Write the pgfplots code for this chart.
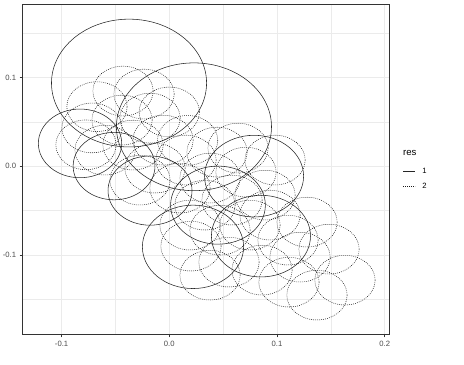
\documentclass[border=0pt]{standalone}
\usepackage{fontspec}
\setmainfont{Liberation Sans}
\usepackage{pgfplots}
\pgfplotsset{compat=1.18}
\usepackage{pgfplotstable}

\def\rad{0.03}
\pgfdeclareplotmark{ell}{%
  \pgfpathellipse{\pgfpointorigin}{\pgfpoint{\rad*1076.9bp}{0pt}}{\pgfpoint{0pt}{\rad*887.3bp}}%
  \pgfusepathqstroke}
\tikzset{
  c1/.style={draw=black!85, line width=0.55bp, solid},
  c2/.style={draw=black!90, line width=0.55bp, dash pattern=on 0.8bp off 1.2bp},
}

% res = 1 : centre x, centre y, radius (data units)
\pgfplotstableread{
x y r
-0.0374 0.0936 0.072
0.0229 0.0443 0.072
-0.0829 0.0256 0.0387
-0.0513 0.0000 0.038
-0.0179 -0.0276 0.039
0.0220 -0.0910 0.047
0.0787 -0.0113 0.046
0.0851 -0.0789 0.046
0.0452 -0.0440 0.044
}\resone

% res = 2
\pgfplotstableread{
x y r
-0.0430 0.0846 0.028
-0.0672 0.0670 0.028
-0.0235 0.0812 0.028
0.0000 0.0610 0.028
-0.0179 0.0541 0.028
-0.0439 0.0519 0.028
-0.0718 0.0430 0.028
0.0170 0.0290 0.028
-0.0058 0.0293 0.028
-0.0337 0.0237 0.028
-0.0774 0.0240 0.028
-0.0597 0.0180 0.028
0.0443 0.0158 0.028
0.0638 0.0203 0.028
0.0155 0.0068 0.028
-0.0133 -0.0023 0.028
0.0712 -0.0068 0.028
0.0378 -0.0135 0.028
0.0099 -0.0248 0.028
0.0582 -0.0383 0.028
0.0331 -0.0440 0.028
0.0889 -0.0327 0.028
-0.0272 -0.0158 0.028
0.0192 -0.0665 0.028
0.0471 -0.0722 0.028
0.0749 -0.0665 0.028
0.0201 -0.0902 0.028
0.0554 -0.1082 0.028
0.0935 -0.0552 0.028
0.1102 -0.0834 0.028
0.1279 -0.0631 0.028
0.1214 -0.1026 0.028
0.0861 -0.1172 0.028
0.1483 -0.0936 0.028
0.1631 -0.1285 0.028
0.1371 -0.1454 0.028
0.1111 -0.1308 0.028
0.0378 -0.1229 0.028
0.0982 0.0068 0.028
}\restwo

\begin{document}
\begin{tikzpicture}
\useasboundingbox (-22.3bp,-30.3bp) rectangle (441.7bp,334.7bp);
\begin{axis}[
  at={(0,0)}, anchor=south west,
  scale only axis, width=366.7bp, height=330bp,
  xmin=-0.1365, xmax=0.204, ymin=-0.190, ymax=0.1819,
  xtick={-0.1,0,0.1,0.2}, ytick={-0.1,0,0.1},
  xticklabels={-0.1,0.0,0.1,0.2}, yticklabels={-0.1,0.0,0.1},
  minor xtick={-0.05,0.05,0.15}, minor ytick={-0.15,-0.05,0.05,0.15},
  grid=both,
  major grid style={black!8, line width=0.55bp},
  minor grid style={black!8, line width=0.3bp},
  tick align=outside, tick pos=left,
  major tick length=2.75bp, minor tick length=0pt,
  tick style={black!80, line width=0.5bp},
  axis line style={black!80, line width=0.6bp},
  tick label style={font=\fontsize{7.7}{8}\selectfont, text=black!70},
  legend style={at={(1.0,0.5)}, anchor=west, xshift=11bp, yshift=-9bp, draw=none, fill=none,
    font=\fontsize{7.7}{8}\selectfont, row sep=4bp},
  legend cell align=left,
]
\addplot[only marks, mark=ell, mark options={c1},
  visualization depends on={\thisrow{r} \as \rad},
  legend image code/.code={\path[draw=none, fill=none] (0bp,-2bp) rectangle (17bp,2bp);\draw[c1] (0bp,0bp) -- (12bp,0bp);},
] table[x=x, y=y] {\resone};
\addlegendentry{1}
\addplot[only marks, mark=ell, mark options={c2},
  visualization depends on={\thisrow{r} \as \rad},
  legend image code/.code={\path[draw=none, fill=none] (0bp,-2bp) rectangle (17bp,2bp);\draw[c2] (0bp,0bp) -- (12bp,0bp);},
] table[x=x, y=y] {\restwo};
\addlegendentry{2}
\end{axis}
\node[anchor=base west, font=\fontsize{9.6}{10}\selectfont, inner sep=0pt] at (380.7bp,179.5bp) {res};
\end{tikzpicture}
\end{document}
